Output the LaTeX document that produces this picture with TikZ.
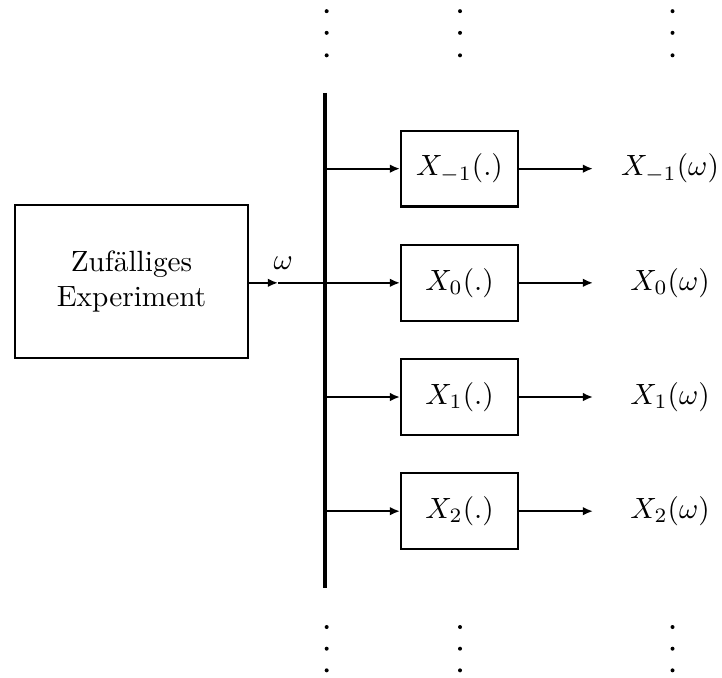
\documentclass[tikz,border=0pt]{standalone}
\usetikzlibrary{arrows.meta}

\begin{document}
\begin{tikzpicture}[line width=0.8pt, >={Latex[length=3.5pt,width=3pt]}]
	\useasboundingbox (0,0) rectangle (8.664,8.124);
	\tikzstyle{every node}=[];
	\tikzstyle{blk}=[draw, minimum width=1.40cm, minimum height=0.91cm, inner sep=0pt];
	% Zufallsexperiment
	\path (1.578,4.745) node[draw, minimum width=2.80cm, minimum height=1.84cm, align=center] (exp) {Zuf\"alliges\\Experiment};
	\path (3.40,4.96) node (om) {$\omega$};
	\path (3.336,4.73) coordinate (mid);
	% Sammelschiene
	\path (3.90,7.01) coordinate (btop);
	\path (3.90,1.07) coordinate (bbot);
	\draw[line width=1.4pt] (btop) -- (bbot);
	\path (3.90,6.10) coordinate (j1);
	\path (3.90,4.73) coordinate (j2);
	\path (3.90,3.36) coordinate (j3);
	\path (3.90,1.99) coordinate (j4);
	% Zufallsvariablen
	\path (5.514,6.10) node[blk] (b1) {$X_{-1}(.)$};
	\path (5.514,4.73) node[blk] (b2) {$X_0(.)$};
	\path (5.514,3.36) node[blk] (b3) {$X_1(.)$};
	\path (5.514,1.99) node[blk] (b4) {$X_2(.)$};
	\path (7.116,6.10) coordinate (e1);
	\path (7.116,4.73) coordinate (e2);
	\path (7.116,3.36) coordinate (e3);
	\path (7.116,1.99) coordinate (e4);
	\path (8.04,6.10) node (o1) {$X_{-1}(\omega)$};
	\path (8.04,4.73) node (o2) {$X_0(\omega)$};
	\path (8.04,3.36) node (o3) {$X_1(\omega)$};
	\path (8.04,1.99) node (o4) {$X_2(\omega)$};
	% Verbindungen
	\draw[->] (exp.east |- mid) -- (mid);
	\draw (mid) -- (j2);
	\draw[->] (j1) -- (b1.west);
	\draw[->] (j2) -- (b2.west);
	\draw[->] (j3) -- (b3.west);
	\draw[->] (j4) -- (b4.west);
	\draw[->] (b1.east) -- (e1);
	\draw[->] (b2.east) -- (e2);
	\draw[->] (b3.east) -- (e3);
	\draw[->] (b4.east) -- (e4);
	% Punkte oben und unten
	\foreach \x in {3.92,5.52,8.07}
		\foreach \y in {7.99,7.73,7.46,0.60,0.34,0.08}
			\fill (\x,\y) circle (0.024);
\end{tikzpicture}
\end{document}
